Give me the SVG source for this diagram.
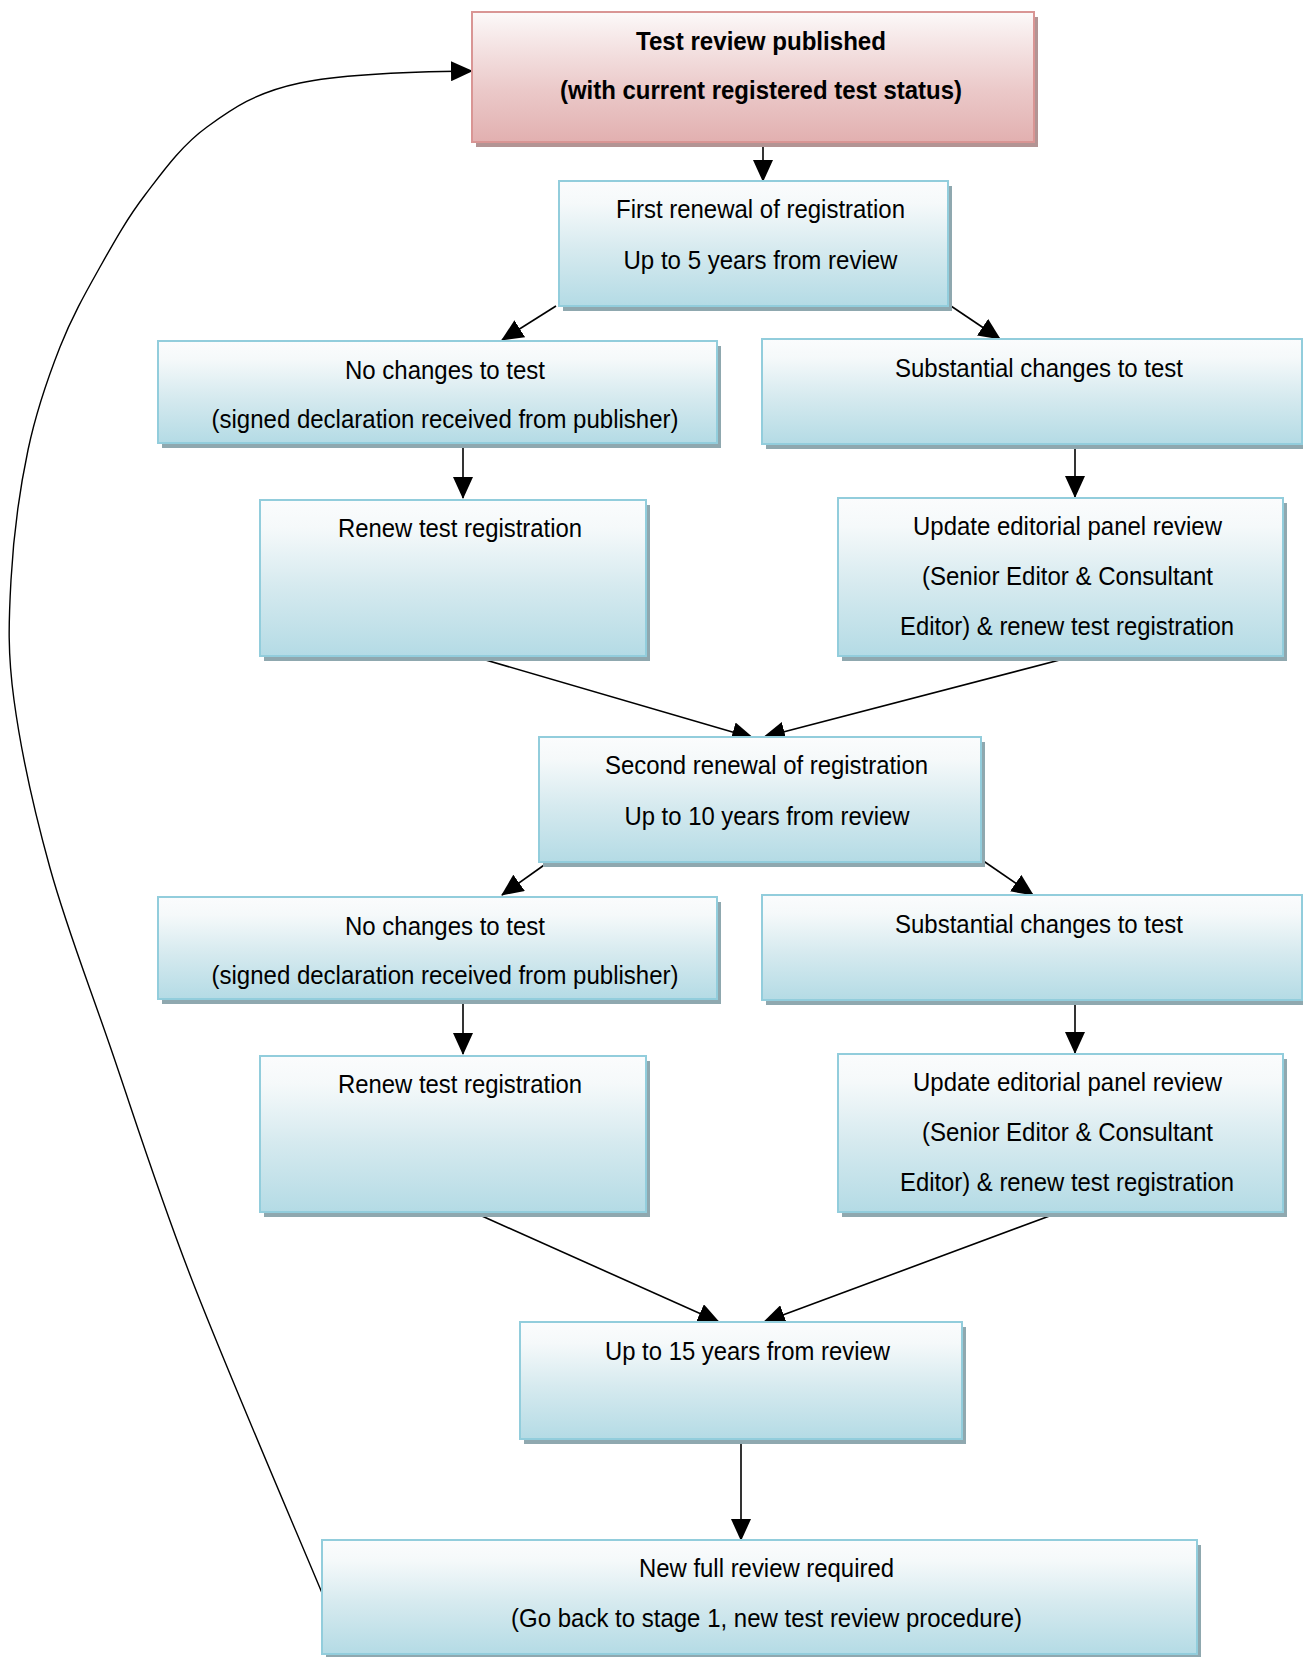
<svg xmlns="http://www.w3.org/2000/svg" width="1303" height="1657" viewBox="0 0 1303 1657">
<style>
.box{fill:url(#gBlue);stroke:#92cddc;stroke-width:2}
.sh{fill:#8fa8af}
.rbox{fill:url(#gRed);stroke:#d99594;stroke-width:2}
.rsh{fill:#b39494}
text{font-family:"Liberation Sans",Arial,sans-serif;font-size:26px;fill:#000;text-anchor:middle}
.b{font-weight:bold}
.ln{fill:none;stroke:#000;stroke-width:1.6;marker-end:url(#ah)}
</style>
<defs>
<linearGradient id="gBlue" x1="0" y1="0" x2="0" y2="1">
<stop offset="0" stop-color="#fbfcfd"/>
<stop offset="0.18" stop-color="#f5f9fa"/>
<stop offset="0.55" stop-color="#d6eaef"/>
<stop offset="1" stop-color="#b4dbe5"/>
</linearGradient>
<linearGradient id="gRed" x1="0" y1="0" x2="0" y2="1">
<stop offset="0" stop-color="#fcf9f9"/>
<stop offset="0.2" stop-color="#f6e8e8"/>
<stop offset="0.6" stop-color="#ebc9c9"/>
<stop offset="1" stop-color="#e2b0b0"/>
</linearGradient>
<marker id="ah" markerUnits="userSpaceOnUse" markerWidth="22" markerHeight="20" viewBox="0 0 22 20" refX="21" refY="10" orient="auto">
<path d="M0,0 L22,10 L0,20 z" fill="#000"/>
</marker>
</defs>

<g id="connectors">
<path class="ln" d="M763,142 L763,181"/>
<path class="ln" d="M556,306 L502,340"/>
<path class="ln" d="M948,304 L1000,339"/>
<path class="ln" d="M463,443 L463,498"/>
<path class="ln" d="M1075,444 L1075,497"/>
<path class="ln" d="M472,656 L753,738"/>
<path class="ln" d="M1075,656 L764,737"/>
<path class="ln" d="M547,863 L502,895"/>
<path class="ln" d="M982,860 L1033,895"/>
<path class="ln" d="M463,999 L463,1054"/>
<path class="ln" d="M1075,1000 L1075,1053"/>
<path class="ln" d="M473,1212 L719,1322"/>
<path class="ln" d="M1063,1211 L764,1322"/>
<path class="ln" d="M741,1439 L741,1540"/>
<path class="ln" style="stroke-width:1.4" d="M322,1593 C300.3,1540.8 227.3,1371.2 192,1280 C156.7,1188.8 133.7,1114.7 110,1046 C86.3,977.3 66,925.7 50,868 C34,810.3 20.5,748 14,700 C7.5,652 8.7,621.7 11,580 C13.3,538.3 19.8,488.8 28,450 C36.2,411.2 48,377.5 60,347 C72,316.5 85.8,292.3 100,267 C114.2,241.7 127.2,218.3 145,195 C162.8,171.7 181.2,145.7 207,127 C232.8,108.3 255.7,92.3 300,83 C344.3,73.7 430,71.5 472,71"/>
</g>

<g id="n1">
<rect class="rsh" x="476" y="17" width="562" height="130"/>
<rect class="rbox" x="472" y="12" width="562" height="130"/>
<text class="b" x="761" y="50" textLength="250" lengthAdjust="spacingAndGlyphs">Test review published</text>
<text class="b" x="761" y="99" textLength="402" lengthAdjust="spacingAndGlyphs">(with current registered test status)</text>
</g>

<g id="n2">
<rect class="sh" x="563" y="186" width="389" height="125"/>
<rect class="box" x="559" y="181" width="389" height="125"/>
<text x="760.5" y="218" textLength="289" lengthAdjust="spacingAndGlyphs">First renewal of registration</text>
<text x="760.5" y="269" textLength="274" lengthAdjust="spacingAndGlyphs">Up to 5 years from review</text>
</g>

<g id="n3">
<rect class="sh" x="162" y="346" width="559" height="102"/>
<rect class="box" x="158" y="341" width="559" height="102"/>
<text x="445" y="379" textLength="200" lengthAdjust="spacingAndGlyphs">No changes to test</text>
<text x="445" y="428" textLength="467" lengthAdjust="spacingAndGlyphs">(signed declaration received from publisher)</text>
</g>

<g id="n4">
<rect class="sh" x="766" y="344" width="540" height="105"/>
<rect class="box" x="762" y="339" width="540" height="105"/>
<text x="1039" y="377" textLength="288" lengthAdjust="spacingAndGlyphs">Substantial changes to test</text>
</g>

<g id="n5">
<rect class="sh" x="264" y="505" width="386" height="156"/>
<rect class="box" x="260" y="500" width="386" height="156"/>
<text x="460" y="537" textLength="244" lengthAdjust="spacingAndGlyphs">Renew test registration</text>
</g>

<g id="n6">
<rect class="sh" x="842" y="503" width="445" height="158"/>
<rect class="box" x="838" y="498" width="445" height="158"/>
<text x="1067.5" y="535" textLength="309" lengthAdjust="spacingAndGlyphs">Update editorial panel review</text>
<text x="1067.5" y="585" textLength="291" lengthAdjust="spacingAndGlyphs">(Senior Editor &amp; Consultant</text>
<text x="1067" y="635" textLength="334" lengthAdjust="spacingAndGlyphs">Editor) &amp; renew test registration</text>
</g>

<g id="n7">
<rect class="sh" x="543" y="742" width="442" height="125"/>
<rect class="box" x="539" y="737" width="442" height="125"/>
<text x="766.5" y="774" textLength="323" lengthAdjust="spacingAndGlyphs">Second renewal of registration</text>
<text x="767" y="825" textLength="285" lengthAdjust="spacingAndGlyphs">Up to 10 years from review</text>
</g>

<g id="n8">
<rect class="sh" x="162" y="902" width="559" height="102"/>
<rect class="box" x="158" y="897" width="559" height="102"/>
<text x="445" y="935" textLength="200" lengthAdjust="spacingAndGlyphs">No changes to test</text>
<text x="445" y="984" textLength="467" lengthAdjust="spacingAndGlyphs">(signed declaration received from publisher)</text>
</g>

<g id="n9">
<rect class="sh" x="766" y="900" width="540" height="105"/>
<rect class="box" x="762" y="895" width="540" height="105"/>
<text x="1039" y="933" textLength="288" lengthAdjust="spacingAndGlyphs">Substantial changes to test</text>
</g>

<g id="n10">
<rect class="sh" x="264" y="1061" width="386" height="156"/>
<rect class="box" x="260" y="1056" width="386" height="156"/>
<text x="460" y="1093" textLength="244" lengthAdjust="spacingAndGlyphs">Renew test registration</text>
</g>

<g id="n11">
<rect class="sh" x="842" y="1059" width="445" height="158"/>
<rect class="box" x="838" y="1054" width="445" height="158"/>
<text x="1067.5" y="1091" textLength="309" lengthAdjust="spacingAndGlyphs">Update editorial panel review</text>
<text x="1067.5" y="1141" textLength="291" lengthAdjust="spacingAndGlyphs">(Senior Editor &amp; Consultant</text>
<text x="1067" y="1191" textLength="334" lengthAdjust="spacingAndGlyphs">Editor) &amp; renew test registration</text>
</g>

<g id="n12">
<rect class="sh" x="524" y="1327" width="442" height="117"/>
<rect class="box" x="520" y="1322" width="442" height="117"/>
<text x="747.5" y="1360" textLength="285" lengthAdjust="spacingAndGlyphs">Up to 15 years from review</text>
</g>

<g id="n13">
<rect class="sh" x="326" y="1545" width="875" height="114"/>
<rect class="box" x="322" y="1540" width="875" height="114"/>
<text x="766.5" y="1577" textLength="255" lengthAdjust="spacingAndGlyphs">New full review required</text>
<text x="766.5" y="1627" textLength="511" lengthAdjust="spacingAndGlyphs">(Go back to stage 1, new test review procedure)</text>
</g>
</svg>
